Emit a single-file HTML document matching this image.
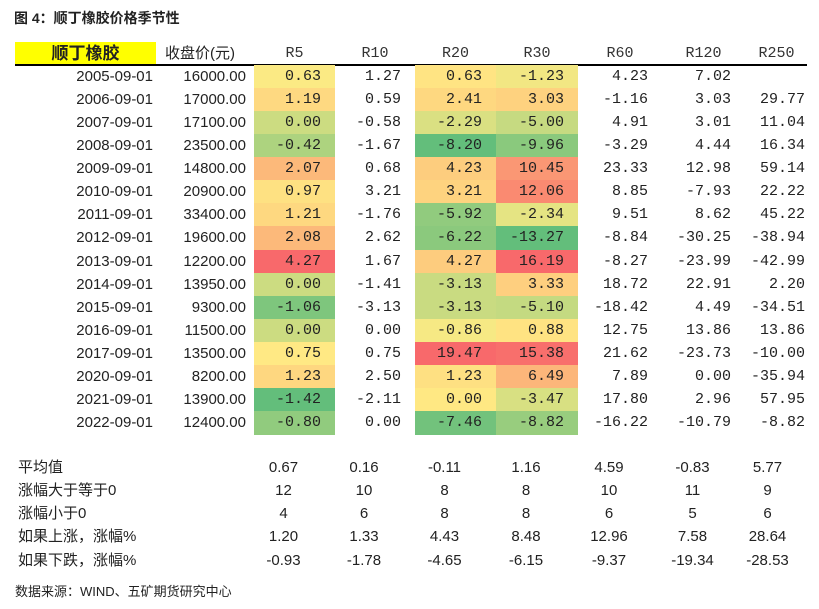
<!DOCTYPE html>
<html><head><meta charset="utf-8"><style>
body{margin:0;width:819px;height:609px;background:#fff;position:relative;overflow:hidden;font-family:"Liberation Sans","Noto Sans CJK SC",sans-serif;color:#222}
.a{position:absolute;white-space:nowrap;line-height:23px;font-size:15px}
.m{font-family:"Liberation Mono","Noto Sans CJK SC",monospace;font-size:15px}
</style></head><body>
<div class="a" style="left:14px;top:7px;font-size:14px;font-weight:bold;font-family:'Liberation Sans','Noto Sans CJK SC',sans-serif">图 4：顺丁橡胶价格季节性</div>
<div class="a" style="left:15px;top:42px;width:141px;height:23px;background:#ffff00;text-align:center;font-weight:bold;font-size:17px">顺丁橡胶</div>
<div class="a" style="left:15px;top:64px;width:792px;height:2px;background:#000"></div>
<div id="t"></div>
<div class="a" style="left:15px;top:580px;font-size:13px">数据来源：WIND、五矿期货研究中心</div>
<script>
const dates=["2005-09-01","2006-09-01","2007-09-01","2008-09-01","2009-09-01","2010-09-01","2011-09-01","2012-09-01","2013-09-01","2014-09-01","2015-09-01","2016-09-01","2017-09-01","2020-09-01","2021-09-01","2022-09-01"];
const prices=[16000,17000,17100,23500,14800,20900,33400,19600,12200,13950,9300,11500,13500,8200,13900,12400];
const R5=[0.63,1.19,0.00,-0.42,2.07,0.97,1.21,2.08,4.27,0.00,-1.06,0.00,0.75,1.23,-1.42,-0.80];
const R10=[1.27,0.59,-0.58,-1.67,0.68,3.21,-1.76,2.62,1.67,-1.41,-3.13,0.00,0.75,2.50,-2.11,0.00];
const R20=[0.63,2.41,-2.29,-8.20,4.23,3.21,-5.92,-6.22,4.27,-3.13,-3.13,-0.86,19.47,1.23,0.00,-7.46];
const R30=[-1.23,3.03,-5.00,-9.96,10.45,12.06,-2.34,-13.27,16.19,3.33,-5.10,0.88,15.38,6.49,-3.47,-8.82];
const R60=[4.23,-1.16,4.91,-3.29,23.33,8.85,9.51,-8.84,-8.27,18.72,-18.42,12.75,21.62,7.89,17.80,-16.22];
const R120=[7.02,3.03,3.01,4.44,12.98,-7.93,8.62,-30.25,-23.99,22.91,4.49,13.86,-23.73,0.00,2.96,-10.79];
const R250=[null,29.77,11.04,16.34,59.14,22.22,45.22,-38.94,-42.99,2.20,-34.51,13.86,-10.00,-35.94,57.95,-8.82];
const headers=["收盘价(元)","R5","R10","R20","R30","R60","R120","R250"];
const sumLabels=["平均值","涨幅大于等于0","涨幅小于0","如果上涨，涨幅%","如果下跌，涨幅%"];
const sumRows=[["0.67","0.16","-0.11","1.16","4.59","-0.83","5.77"],["12","10","8","8","10","11","9"],["4","6","8","8","6","5","6"],["1.20","1.33","4.43","8.48","12.96","7.58","28.64"],["-0.93","-1.78","-4.65","-6.15","-9.37","-19.34","-28.53"]];
const series=[R5,R10,R20,R30,R60,R120,R250];
const heat=[true,false,true,true,false,false,false];
const colL=[254,335,415,496,578,662,745],colW=[81,80,81,82,84,83,63];
const top0=65,rh=23.07;
const t=document.getElementById('t');
function add(txt,x,y,w,cls,align,bg,name){const d=document.createElement('div');d.className='a '+(cls||'');d.style.left=x+'px';d.style.top=y+'px';d.style.width=w+'px';d.style.height=Math.ceil(rh)+'px';d.style.textAlign=align||'right';if(bg)d.style.background=bg;d.textContent=txt;


t.appendChild(d);return d;}
// headers
add(headers[0],150,42,100,'','center',null,'header-close-price');
for(let j=0;j<7;j++){const h=add(headers[j+1],colL[j],42,colW[j],'m','center',null,'header-'+headers[j+1].toLowerCase());h.style.color='#333';}
function lerp(a,b,f){return a.map((v,i)=>Math.round(v+(b[i]-v)*f));}
function color(v,arr){const s=arr.filter(x=>x!=null).slice().sort((a,b)=>a-b);const mn=s[0],mx=s[s.length-1];const n=s.length;const med=n%2?s[(n-1)/2]:(s[n/2-1]+s[n/2])/2;
const g=[99,190,123],y=[255,235,132],r=[248,105,107];let c;
if(v<=med)c=lerp(g,y,(v-mn)/((med-mn)||1));else c=lerp(y,r,(v-med)/((mx-med)||1));return 'rgb('+c.join(',')+')';}
for(let i=0;i<dates.length;i++){const y=top0+i*rh;
add(dates[i],30,y,123,'','right',null,'date-'+dates[i]);
add(prices[i].toFixed(2),150,y,96,'','right',null,'close-price-'+dates[i]);
for(let j=0;j<7;j++){const v=series[j][i];const bg=(heat[j]&&v!=null)?color(v,series[j]):null;
const d=add(v==null?'':v.toFixed(2),colL[j],y,colW[j],'m','right',bg,'cell-'+headers[j+1].toLowerCase()+'-'+dates[i]);d.style.paddingRight='0';d.style.width=(colW[j]-14)+'px';d.style.paddingRight='14px';if(j==6){d.style.width=(colW[j]-3)+'px';d.style.paddingRight='3px';}}}
const sTop=455.5;
for(let k=0;k<5;k++){const y=sTop+k*23.3;
add(sumLabels[k],18,y,200,'','left',null,'summary-label-'+k);
for(let j=0;j<7;j++){add(sumRows[k][j],colL[j],y,colW[j]-(j==6?18:22),'','center',null,'summary-'+k+'-'+headers[j+1].toLowerCase());}}
</script>
</body></html>
